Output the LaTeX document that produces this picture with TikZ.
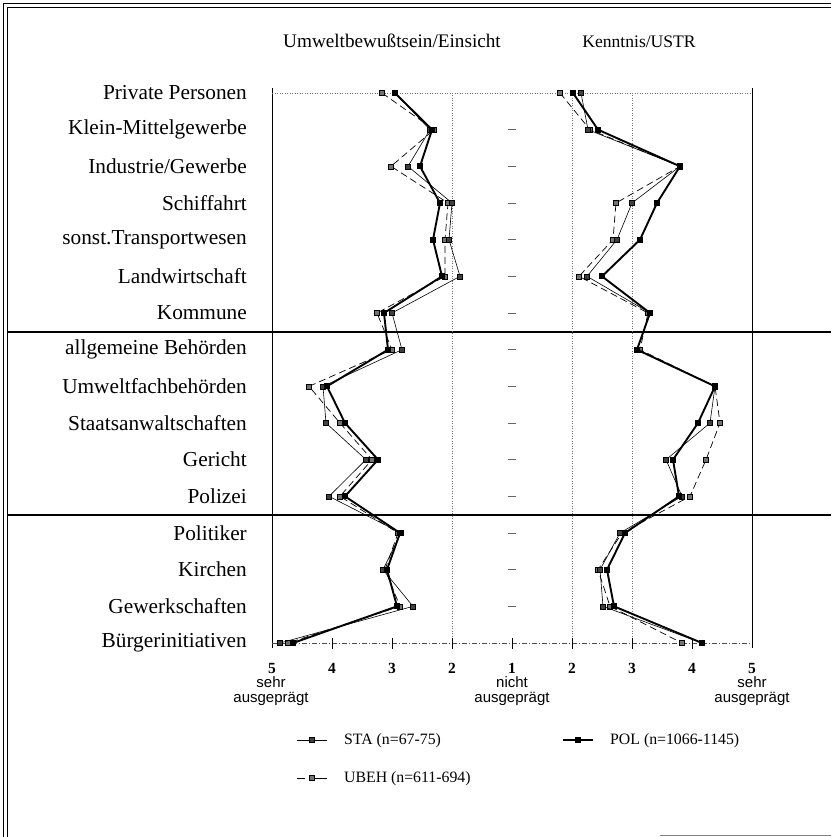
\documentclass[tikz,border=0pt]{standalone}
\usepackage{fontspec}
\setmainfont{Liberation Serif}
\newfontfamily\axsans{Liberation Sans}
\newcommand\series[4]{%
  \foreach \xx [count=\i] in {#4} \coordinate (#3\i) at (\xx,{93+(\i-1)*36.667});
  \draw[#1] (#31) \foreach \i in {2,...,16} {-- (#3\i)};
  \foreach \i in {1,...,16} \node[#2] at (#3\i) {};
}
\begin{document}
\begin{tikzpicture}[x=1pt,y=-1pt,
  rowlab/.style={anchor=east,font=\fontsize{21.3}{22}\selectfont,inner sep=0pt},
  headlab/.style={anchor=base,inner sep=0pt},
  numlab/.style={anchor=base,font=\bfseries\fontsize{15.5}{16}\selectfont,inner sep=0pt},
  desclab/.style={align=center,font=\axsans\fontsize{15}{14.5}\selectfont,inner sep=0pt},
  leglab/.style={anchor=west,font=\fontsize{15.8}{16}\selectfont,inner sep=0pt},
  pol/.style={line width=1.9pt,black,line join=round},
  sta/.style={line width=0.6pt,black},
  ubeh/.style={line width=0.7pt,black,dash pattern=on 7pt off 4pt},
  polmk/.style={rectangle,fill=black,inner sep=0pt,minimum size=6pt},
  stamk/.style={rectangle,fill=black!75,draw=black,line width=0.4pt,inner sep=0pt,minimum size=5pt},
  ubehmk/.style={rectangle,fill=black!55,draw=black,line width=0.4pt,inner sep=0pt,minimum size=5pt},
  gridln/.style={black!55,line width=0.5pt,dotted},
  sep/.style={line width=1.4pt,black}]
\useasboundingbox (0,0) rectangle (831,837);
% frame
\draw[line width=0.8pt] (3,837) -- (3,3) -- (831,3);
\draw[line width=0.8pt] (7,837) -- (7,7) -- (831,7);
\draw[black!50,line width=0.6pt] (660,835) -- (831,835);
% headers
\node[headlab,font=\fontsize{19.2}{20}\selectfont] (h1) at (392,48) {Umweltbewußtsein/Einsicht};
\node[headlab,font=\fontsize{17.6}{18}\selectfont] (h2) at (639,48) {Kenntnis/USTR};
% row labels
\node[rowlab] (r1) at (247,93) {Private Personen};
\node[rowlab] (r2) at (247,129.7) {Klein-Mittelgewerbe};
\node[rowlab] (r3) at (247,166.3) {Industrie/Gewerbe};
\node[rowlab] (r4) at (247,203) {Schiffahrt};
\node[rowlab] (r5) at (247,239.7) {sonst.Transportwesen};
\node[rowlab] (r6) at (247,276.3) {Landwirtschaft};
\node[rowlab] (r7) at (247,313) {Kommune};
\node[rowlab] (r8) at (247,349.7) {allgemeine Behörden};
\node[rowlab] (r9) at (247,386.3) {Umweltfachbehörden};
\node[rowlab] (r10) at (247,423) {Staatsanwaltschaften};
\node[rowlab] (r11) at (247,459.7) {Gericht};
\node[rowlab] (r12) at (247,496.3) {Polizei};
\node[rowlab] (r13) at (247,533) {Politiker};
\node[rowlab] (r14) at (247,569.7) {Kirchen};
\node[rowlab] (r15) at (247,606.3) {Gewerkschaften};
\node[rowlab] (r16) at (247,643) {Bürgerinitiativen};
% separators
\draw[sep] (7,332) -- (831,332);
\draw[sep] (7,515) -- (831,515);
% axes and grid
\draw[line width=0.6pt] (272,88) -- (272,648);
\draw[line width=0.6pt] (752,88) -- (752,648);
\draw[gridln] (272,93) -- (752,93);
\draw[gridln] (452,93) -- (452,643);
\draw[gridln] (572,93) -- (572,643);
\draw[gridln] (632,93) -- (632,643);
\foreach \yy in {129.7,166.3,203,239.7,276.3,313,349.7,386.3,423,459.7,496.3,533,569.7,606.3}
  \draw[black!60,line width=0.6pt] (508,\yy) -- (516,\yy);
\draw[black!70,line width=0.5pt,dash pattern=on 5pt off 2pt on 1pt off 2pt] (272,643) -- (752,643);
\foreach \xx in {332,392,452,512,572,632,692}
  \draw[line width=0.7pt] (\xx,638) -- (\xx,649);
% axis numbers
\foreach \xx/\t [count=\i] in {272/5,332/4,392/3,452/2,512/1,572/2,632/3,692/4,752/5}
  \node[numlab] (n\i) at (\xx,673) {\t};
\node[desclab] (d1) at (271,691) {sehr\\ausgeprägt};
\node[desclab] (d2) at (512,691) {nicht\\ausgeprägt};
\node[desclab] (d3) at (752,691) {sehr\\ausgeprägt};
% left panel data
\series{ubeh}{ubehmk}{lu}{382,434,391,448,445,445,377,392,309,340,372,340,398,385,400,288}
\series{sta}{stamk}{ls}{395,430,408,452,449,460,392,402,323,326,366,329,401,383,413,280}
\series{pol}{polmk}{lp}{395,432,420,440,433,442,384,388,327,345,378,345,400,387,397,293}
% right panel data
\series{ubeh}{ubehmk}{ru}{560,590,680,616,613,579,648,640,715,720,706,690,622,598,610,682}
\series{sta}{stamk}{rs}{581,588,680,632,617,587,650,637,715,710,666,682,620,600,603,702}
\series{pol}{polmk}{rp}{573,598,680,657,640,602,650,637,715,698,673,679,625,607,614,702}
% legend
\coordinate (la1) at (297,740); \coordinate (lb1) at (327,740);
\draw[sta] (la1) -- (lb1);
\node[stamk] (m1) at (312,740) {};
\node[leglab] (l1) at (344,741) {STA (n=67-75)};
\coordinate (la2) at (563,740); \coordinate (lb2) at (593,740);
\draw[pol] (la2) -- (lb2);
\node[polmk] (m2) at (578,740) {};
\node[leglab] (l2) at (610,741) {POL (n=1066-1145)};
\coordinate (la3) at (297,778); \coordinate (lb3) at (327,778);
\coordinate (lc3) at (305,778); \coordinate (ld3) at (309,778);
\draw[sta] (la3) -- (lc3) (ld3) -- (lb3);
\node[ubehmk] (m3) at (312,778) {};
\node[leglab] (l3) at (344,779) {UBEH (n=611-694)};
\end{tikzpicture}
\end{document}
